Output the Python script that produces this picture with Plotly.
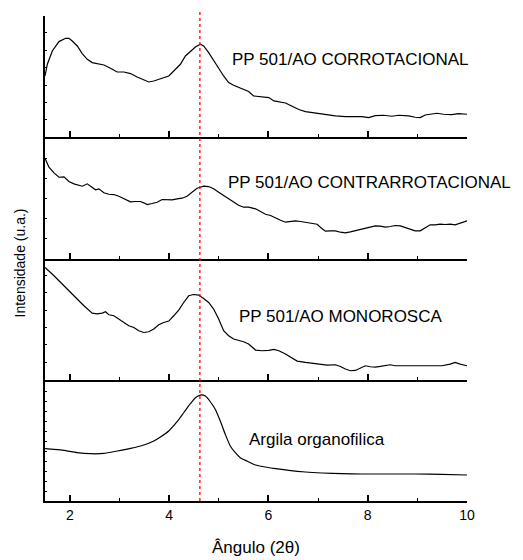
import plotly.graph_objects as go

# 2-theta positions (degrees) and intensities (a.u.) for each sample
corro_2theta = [1.50, 1.547, 1.647, 1.781, 1.915, 1.982, 2.049, 2.150, 2.250, 2.351, 2.451, 2.552,
                2.686, 2.820, 2.954, 3.088, 3.222, 3.356, 3.490, 3.590, 3.691, 3.791, 3.892, 3.992,
                4.093, 4.227, 4.328, 4.428, 4.529, 4.629, 4.696, 4.797, 4.897, 4.998, 5.098, 5.199,
                5.299, 5.400, 5.500, 5.601, 5.701, 5.842, 6.009, 6.110, 6.344, 6.478, 6.612, 6.746,
                6.947, 7.148, 7.349, 7.550, 7.751, 7.885, 8.019, 8.153, 8.321, 8.488, 8.622, 8.823,
                8.957, 9.058, 9.158, 9.292, 9.393, 9.527, 9.694, 9.828, 10.0]
corro_int = [61.3, 73.0, 86.3, 95.7, 99.0, 99.0, 96.3, 91.3, 83.7, 78.0, 74.7, 73.7,
             72.3, 69.0, 65.3, 65.3, 63.7, 60.3, 57.0, 55.3, 56.3, 57.7, 59.7, 61.3,
             66.3, 73.0, 81.3, 86.3, 90.3, 93.0, 91.3, 84.7, 76.3, 69.0, 61.3, 54.7,
             52.0, 49.7, 47.7, 45.7, 41.3, 40.7, 39.7, 36.3, 34.3, 31.0, 27.7, 25.7,
             24.0, 22.3, 21.3, 20.7, 21.0, 20.7, 19.7, 21.7, 22.0, 21.0, 22.0, 21.3,
             20.0, 19.7, 22.3, 23.0, 24.0, 23.0, 22.7, 23.7, 23.0]

contra_2theta = [1.50, 1.580, 1.681, 1.781, 1.882, 1.982, 2.083, 2.183, 2.250, 2.351, 2.418, 2.518,
                 2.585, 2.686, 2.786, 2.887, 2.987, 3.088, 3.155, 3.222, 3.322, 3.423, 3.490, 3.557,
                 3.657, 3.758, 3.858, 3.959, 4.059, 4.160, 4.260, 4.361, 4.461, 4.562, 4.629, 4.696,
                 4.797, 4.897, 4.998, 5.098, 5.199, 5.299, 5.400, 5.500, 5.601, 5.741, 5.842, 5.942,
                 6.043, 6.143, 6.244, 6.344, 6.445, 6.545, 6.646, 6.746, 6.880, 6.981, 7.081, 7.148,
                 7.249, 7.349, 7.450, 7.550, 7.651, 7.751, 7.852, 7.952, 8.053, 8.153, 8.254, 8.354,
                 8.455, 8.555, 8.656, 8.756, 8.857, 8.957, 9.058, 9.158, 9.259, 9.359, 9.460, 9.560,
                 9.661, 9.761, 9.895, 10.0]
contra_int = [100.3, 91.3, 85.7, 81.3, 81.7, 77.0, 74.7, 73.0, 72.3, 74.7, 72.3, 68.7,
              69.7, 65.7, 64.3, 64.0, 62.3, 59.7, 58.7, 56.7, 57.0, 57.0, 55.7, 54.0,
              55.0, 56.3, 59.0, 58.7, 58.7, 59.7, 60.3, 62.3, 66.3, 70.3, 71.3, 72.3,
              72.0, 69.7, 66.3, 63.0, 59.7, 57.0, 53.3, 51.3, 51.3, 49.7, 47.0, 44.3,
              43.0, 40.3, 38.3, 36.3, 37.0, 37.7, 37.0, 36.3, 35.3, 34.3, 29.7, 27.3,
              27.7, 27.7, 26.3, 25.7, 26.7, 28.0, 29.0, 30.0, 31.3, 32.7, 32.3, 31.3,
              32.0, 33.0, 32.7, 31.0, 29.0, 27.7, 27.7, 31.0, 33.7, 33.7, 34.3, 34.0,
              34.3, 33.7, 35.7, 37.7]

mono_2theta = [1.50, 1.580, 1.681, 1.781, 1.882, 1.982, 2.083, 2.183, 2.284, 2.384, 2.451, 2.552,
               2.653, 2.719, 2.786, 2.887, 2.987, 3.088, 3.188, 3.289, 3.389, 3.490, 3.590, 3.691,
               3.791, 3.892, 3.992, 4.093, 4.193, 4.294, 4.394, 4.495, 4.595, 4.696, 4.797, 4.897,
               4.998, 5.098, 5.199, 5.299, 5.400, 5.500, 5.601, 5.741, 5.875, 6.009, 6.110, 6.210,
               6.344, 6.478, 6.579, 6.746, 6.914, 7.048, 7.182, 7.349, 7.450, 7.550, 7.651, 7.751,
               7.852, 7.952, 8.053, 8.153, 8.254, 8.354, 8.455, 8.555, 8.723, 8.890, 9.091, 9.292,
               9.493, 9.661, 9.761, 9.862, 10.0]
mono_int = [112.3, 109.0, 104.0, 99.0, 94.0, 90.0, 84.0, 79.0, 74.0, 69.0, 66.7, 66.0,
            66.7, 68.0, 65.0, 64.0, 60.7, 57.3, 54.0, 52.3, 49.0, 47.3, 48.0, 50.7,
            55.0, 57.3, 58.7, 64.0, 69.7, 77.3, 84.0, 85.3, 84.7, 81.3, 77.3, 70.7,
            60.7, 49.0, 44.0, 40.7, 39.7, 38.0, 35.7, 29.7, 29.0, 29.3, 30.3, 29.0,
            25.7, 21.7, 18.7, 17.3, 16.3, 15.0, 14.7, 15.0, 13.3, 10.7, 9.0, 9.3,
            12.0, 14.0, 13.0, 12.7, 13.3, 14.0, 15.0, 14.0, 14.0, 13.3, 13.7, 13.7,
            14.0, 15.7, 17.3, 15.7, 14.0]

argila_2theta = [1.50, 1.681, 1.882, 2.150, 2.418, 2.686, 2.954, 3.222, 3.490, 3.691, 3.825, 3.992,
                 4.160, 4.294, 4.428, 4.529, 4.629, 4.730, 4.830, 4.931, 5.031, 5.132, 5.232, 5.333,
                 5.433, 5.567, 5.741, 5.942, 6.143, 6.411, 6.746, 7.081, 7.483, 7.885, 8.421, 8.957,
                 9.493, 10.0]
argila_int = [52.3, 51.6, 50.6, 48.3, 47.3, 47.6, 50.0, 52.6, 56.0, 60.0, 64.0, 70.0,
              79.3, 88.3, 97.3, 103.3, 106.0, 105.0, 99.3, 91.6, 80.0, 66.6, 55.0, 48.3,
              43.3, 40.0, 36.0, 34.0, 32.3, 30.6, 29.0, 28.0, 27.3, 27.0, 27.0, 27.0,
              26.6, 26.0]

sample_labels = ["PP 501/AO CORROTACIONAL", "PP 501/AO CONTRARROTACIONAL",
                 "PP 501/AO MONOROSCA", "Argila organofilica"]
peak_2theta = 4.62
x_ticks = [2, 4, 6, 8, 10]

series = [(corro_2theta, corro_int), (contra_2theta, contra_int),
          (mono_2theta, mono_int), (argila_2theta, argila_int)]
smooth = [False, False, False, True]
ytick_step = [17.4, 20.0, 17.4, 10.0]

FONT = "Arial, Liberation Sans, sans-serif"
fig = go.Figure()
n = len(series)
for i, (xs, ys) in enumerate(series):
    k = i + 1
    sfx = "" if k == 1 else str(k)
    fig.add_trace(go.Scatter(
        x=xs, y=ys, mode="lines", xaxis="x" + sfx, yaxis="y" + sfx,
        line=dict(color="black", width=1.2, shape="spline" if smooth[i] else "linear",
                  smoothing=0.6),
        showlegend=False, hoverinfo="skip"))
    top = 1 - i / n
    bottom = 1 - (i + 1) / n
    last = (k == n)
    fig.layout["xaxis" + sfx] = dict(
        domain=[0, 1], anchor="y" + sfx, range=[1.5, 10],
        tickvals=x_ticks, showticklabels=last,
        ticks="inside", ticklen=6, tickwidth=1.5, tickcolor="black",
        minor=dict(ticks="inside", ticklen=3, tickwidth=1.2, tickcolor="black", dtick=1, tick0=0),
        showline=True, linecolor="black", linewidth=1.8,
        showgrid=False, zeroline=False,
        tickfont=dict(family=FONT, size=14, color="black"),
        **({} if k == 1 else {"matches": "x"}))
    fig.layout["yaxis" + sfx] = dict(
        domain=[bottom, top], anchor="x" + sfx, range=[0, 121.3],
        showticklabels=False, ticks="inside", ticklen=2, tickwidth=1, tickcolor="black",
        tick0=0, dtick=ytick_step[i],
        showline=True, linecolor="black", linewidth=1.8,
        showgrid=False, zeroline=False)

# dotted reference line at the clay basal peak
fig.add_shape(type="line", xref="x", yref="paper", x0=peak_2theta, x1=peak_2theta,
              y0=0, y1=1.0144, line=dict(color="red", width=1.3, dash="dot"), layer="above")

label_pos = [(0.438, 0.911), (0.428, 0.656), (0.454, 0.381), (0.479, 0.126)]
for text, (lx, ly) in zip(sample_labels, label_pos):
    fig.add_annotation(text=text, xref="paper", yref="paper", x=lx, y=ly,
                       xanchor="left", yanchor="middle", showarrow=False,
                       font=dict(family=FONT, size=17, color="black"))

fig.add_annotation(text="Ângulo (2θ)", xref="paper", yref="paper", x=0.5, y=-0.095,
                   xanchor="center", yanchor="middle", showarrow=False,
                   font=dict(family=FONT, size=17, color="black"))
fig.add_annotation(text="Intensidade (u.a.)", xref="paper", yref="paper", x=-0.059, y=0.49,
                   xanchor="center", yanchor="middle", showarrow=False, textangle=-90,
                   font=dict(family=FONT, size=14, color="black"))

fig.update_layout(width=523, height=560, margin=dict(l=45, r=56, t=16, b=59),
                  paper_bgcolor="white", plot_bgcolor="white")
fig.write_html("out.html")
